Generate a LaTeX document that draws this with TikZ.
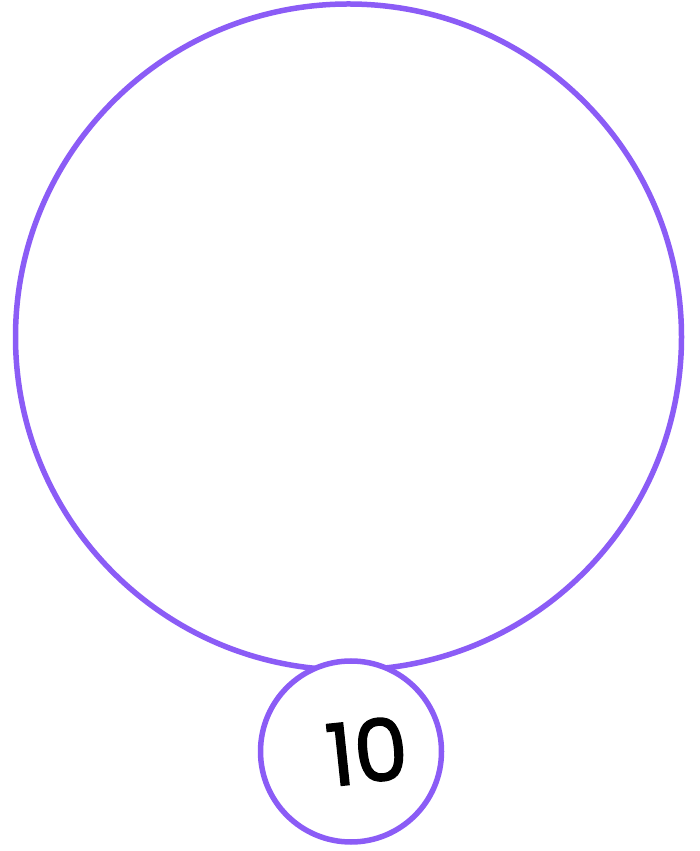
\documentclass[tikz,border=0pt]{standalone}
\usepackage{fontspec}
\newfontfamily\numfont[FakeBold=1.6]{Poppins}
\definecolor{ringpurple}{RGB}{139,92,246}
\begin{document}
\begin{tikzpicture}[x=1pt,y=1pt,
  ring/.style={draw=ringpurple,line width=5.5pt,fill=white}]
\useasboundingbox (0,0) rectangle (700,851);
\node[ring,circle,minimum size=666pt,inner sep=0pt] (big) at (348.5,514) {};
\node[ring,circle,minimum size=181pt,inner sep=0pt] (small) at (351,99.5) {};
\node[rotate=6,inner sep=0pt] (label) at (367,100) {\numfont\fontsize{86}{86}\selectfont 10};
\end{tikzpicture}
\end{document}
